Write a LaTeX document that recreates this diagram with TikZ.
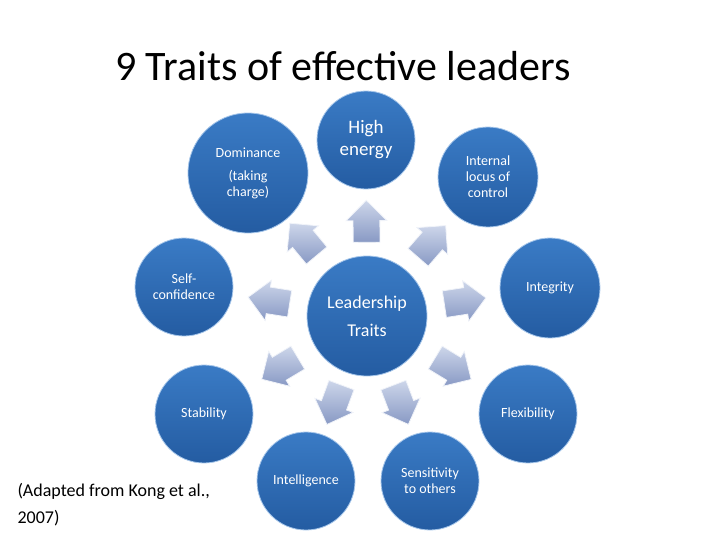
\documentclass[tikz,border=0pt]{standalone}
\usepackage{fontspec}
\setmainfont{Carlito}
\usepackage{tikz}
\usetikzlibrary{positioning, calc, shapes.arrows}
\usepackage{xcolor}
\definecolor{traitTop}{HTML}{3A7BC5}
\definecolor{traitBottom}{HTML}{245CA2}
\definecolor{traitRim}{HTML}{A6C6EA}
\definecolor{arrowLight}{HTML}{CDD6EA}
\definecolor{arrowSteel}{HTML}{8899C4}
\definecolor{arrowEdge}{HTML}{F0F3F9}

\begin{document}
\begin{tikzpicture}[x=1pt, y=-1pt,
            trait/.style={
              circle, minimum size=#1, inner sep=0pt,
              top color=traitTop, bottom color=traitBottom,
              draw=traitRim, line width=0.8pt,
              text=white, align=center, font=\fontsize{14}{16}\selectfont
            },
            trait/.default=98pt,
            push/.style={
              single arrow, draw=arrowEdge, line width=0.8pt,
              top color=arrowLight, bottom color=arrowSteel,
              inner xsep=0pt, inner ysep=13pt, minimum height=42pt,
              single arrow head extend=7pt, single arrow tip angle=90
            }
          ]
          \useasboundingbox (0,0) rectangle (728,546);
          % Titulo
          \node[anchor=base, font=\fontsize{42}{50}\selectfont]
            (title) at (343,80) {9 Traits of effective leaders};

          % Circulo central
          \node[trait=120pt, font=\fontsize{18}{18}\selectfont]
            (lead) at (367,316) {Leadership\\[10pt]Traits};

          % Rasgos alrededor
          \node[trait, font=\fontsize{19}{22}\selectfont]
            (he) at (366,140) {High\\energy};
          \node[trait=100pt] (loc) at (488,177) {Internal\\locus of\\control};
          \node[trait=100pt] (integ) at (550,288) {Integrity};
          \node[trait] (flex) at (528,414) {Flexibility};
          \node[trait] (sens) at (430,481) {Sensitivity\\to others};
          \node[trait] (intel) at (306,481) {Intelligence};
          \node[trait] (stab) at (204,414) {Stability};
          \node[trait] (self) at (184,287) {Self-\\confidence};
          \node[trait=120pt] (dom) at (248,173) {Dominance\\[7pt](taking\\charge)};

          % Flechas de bloque hacia cada rasgo
          \foreach \t in {he, loc, integ, flex, sens, intel, stab, self, dom}
            \path let \p1 = ($(\t)-(lead)$), \n1 = {atan2(\y1,\x1)} in
              node[push, rotate=\n1] (push-\t) at ($(lead)!0.5!(\t)$) {};

          % Fuente
          \node[anchor=base west, align=left,
                font=\fontsize{18}{27}\selectfont]
            (src) at (14,523) {(Adapted from Kong et al.,\\2007)};
        \end{tikzpicture}
\end{document}
